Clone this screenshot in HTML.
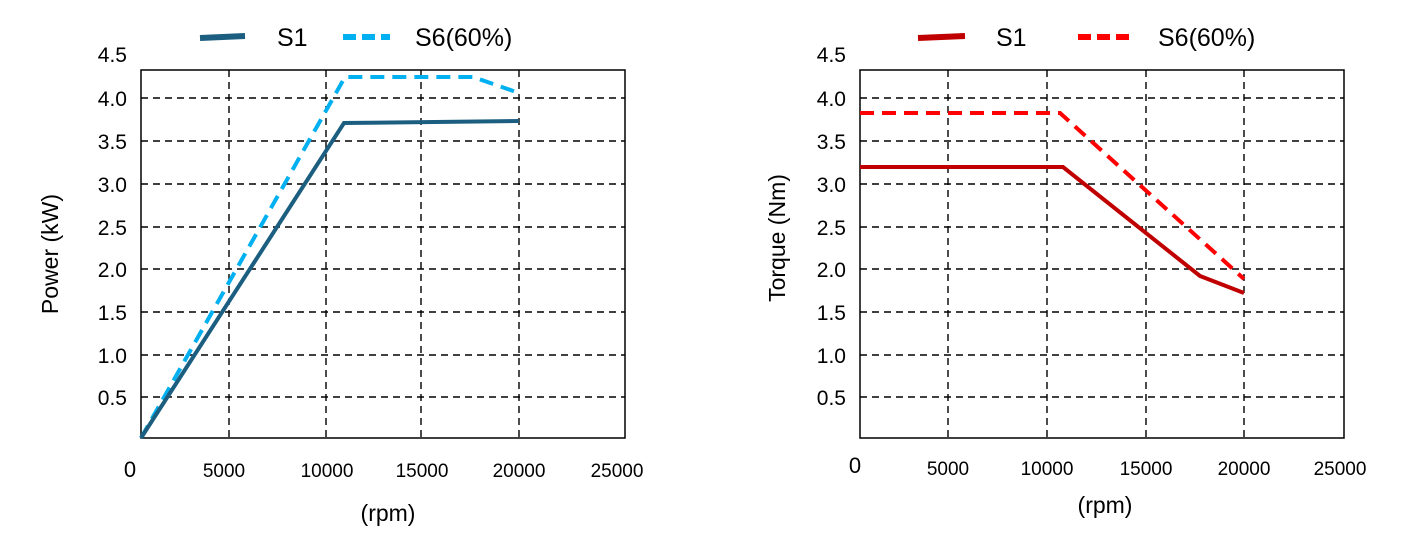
<!DOCTYPE html>
<html><head><style>
body{margin:0;background:#fff;}
svg text{font-family:"Liberation Sans",sans-serif;fill:#000;}
</style></head><body>
<svg width="1408" height="547" viewBox="0 0 1408 547">
<g stroke="#000" stroke-width="1.4" stroke-dasharray="7,5" fill="none">
<path d="M229 70V438M326 70V438M421 70V438M519 70V438"/>
<path d="M141 98H625M141 141H625M141 184H625M141 227H625M141 269H625M141 312H625M141 355H625M141 397H625"/>
<path d="M948 70V438M1047 70V438M1146 70V438M1244 70V438"/>
<path d="M860 98H1344M860 141H1344M860 184H1344M860 227H1344M860 269H1344M860 312H1344M860 355H1344M860 397H1344"/>
</g>
<rect x="141" y="70" width="484" height="368" fill="none" stroke="#000" stroke-width="1.5"/>
<rect x="860" y="70" width="484" height="368" fill="none" stroke="#000" stroke-width="1.5"/>
<polyline points="141,438 345,77 473,77 519,93" fill="none" stroke="#00b0f0" stroke-width="4" stroke-dasharray="14,8"/>
<polyline points="141,438 344,123 519,121" fill="none" stroke="#1b5e80" stroke-width="4"/>
<polyline points="860,113 1060,113 1244,279" fill="none" stroke="#ff0000" stroke-width="4" stroke-dasharray="14,8"/>
<polyline points="860,167 1063,167 1200,276 1244,293" fill="none" stroke="#c00000" stroke-width="4"/>
<line x1="200" y1="38" x2="245" y2="36" stroke="#1b5e80" stroke-width="6"/>
<line x1="343" y1="37" x2="390" y2="37" stroke="#00b0f0" stroke-width="6" stroke-dasharray="13,6"/>
<text x="277" y="46" font-size="25">S1</text>
<text x="415" y="46" font-size="25">S6(60%)</text>
<line x1="918" y1="38" x2="965" y2="36" stroke="#c00000" stroke-width="6"/>
<line x1="1078" y1="37" x2="1130" y2="37" stroke="#ff0000" stroke-width="6" stroke-dasharray="13,6"/>
<text x="996" y="46" font-size="25">S1</text>
<text x="1158" y="46" font-size="25">S6(60%)</text>
<g font-size="21" text-anchor="end">
<text x="127" y="62">4.5</text><text x="127" y="106">4.0</text><text x="127" y="149">3.5</text><text x="127" y="192">3.0</text><text x="127" y="235">2.5</text><text x="127" y="277">2.0</text><text x="127" y="320">1.5</text><text x="127" y="363">1.0</text><text x="127" y="405">0.5</text>
<text x="846" y="62">4.5</text><text x="846" y="106">4.0</text><text x="846" y="149">3.5</text><text x="846" y="192">3.0</text><text x="846" y="235">2.5</text><text x="846" y="277">2.0</text><text x="846" y="320">1.5</text><text x="846" y="363">1.0</text><text x="846" y="405">0.5</text>
</g>
<g font-size="19" text-anchor="middle">
<text x="130" y="477" font-size="22">0</text><text x="224" y="477">5000</text><text x="327" y="477">10000</text><text x="422" y="477">15000</text><text x="519" y="477">20000</text><text x="617" y="477">25000</text>
<text x="855" y="473" font-size="22">0</text><text x="948" y="475">5000</text><text x="1047" y="475">10000</text><text x="1146" y="475">15000</text><text x="1244" y="475">20000</text><text x="1340" y="475">25000</text>
</g>
<text x="388" y="521" font-size="23" text-anchor="middle">(rpm)</text>
<text x="1105" y="513" font-size="23" text-anchor="middle">(rpm)</text>
<text transform="translate(58,254) rotate(-90)" font-size="23" text-anchor="middle">Power (kW)</text>
<text transform="translate(785,238) rotate(-90)" font-size="23" text-anchor="middle">Torque  (Nm)</text>
</svg>
</body></html>
